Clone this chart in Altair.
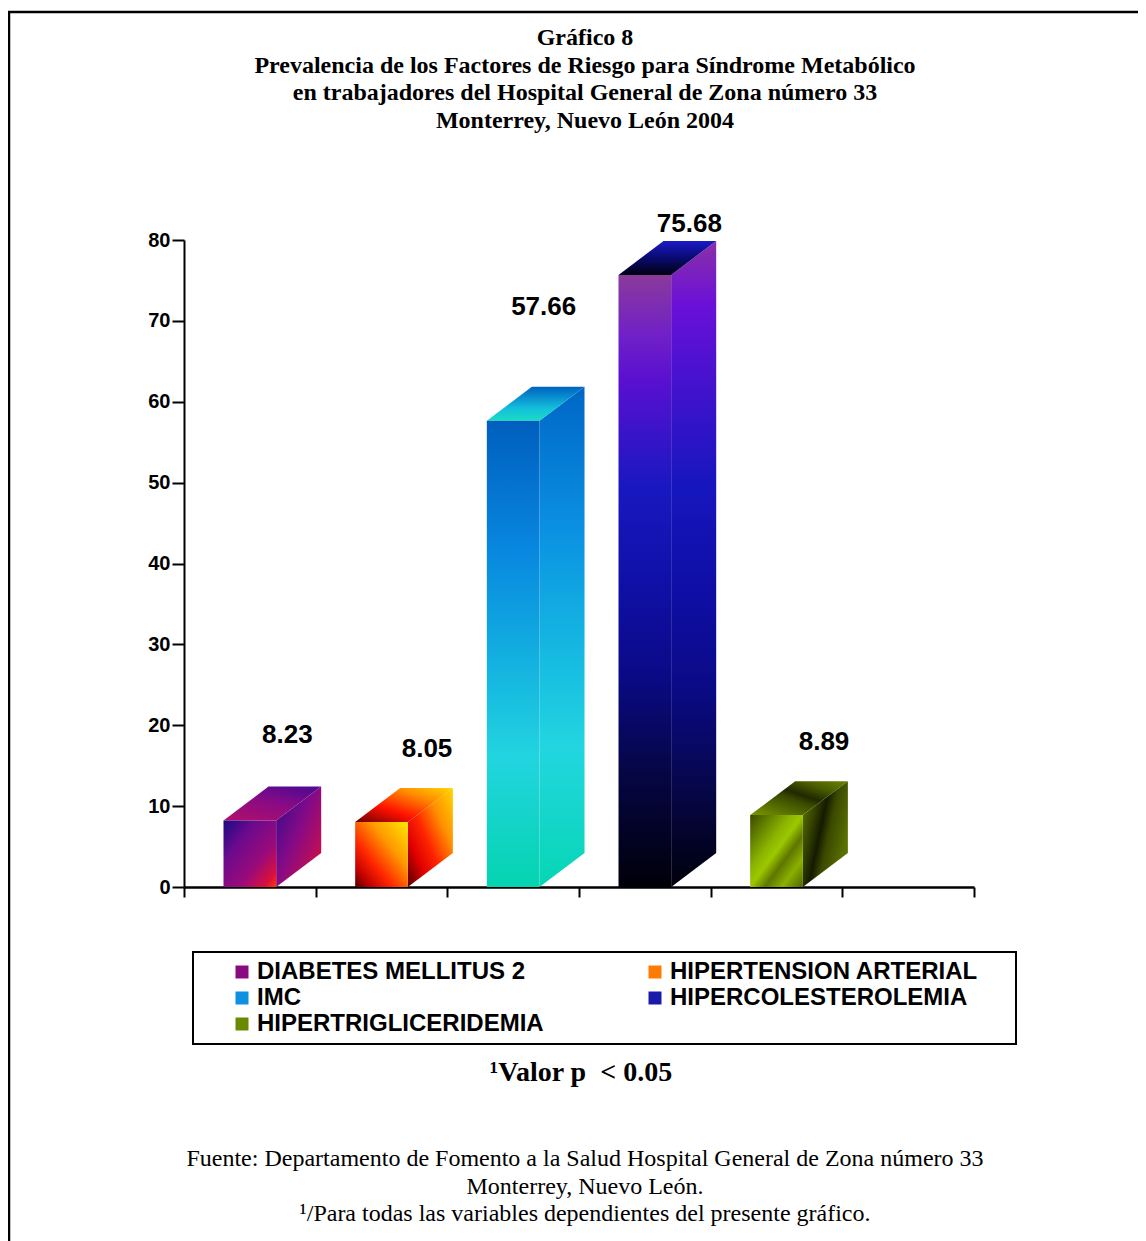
import altair as alt
import pandas as pd

# ---------------- data ----------------
categories = ["DIABETES MELLITUS 2", "HIPERTENSION ARTERIAL", "IMC",
              "HIPERCOLESTEROLEMIA", "HIPERTRIGLICERIDEMIA"]
values = [8.23, 8.05, 57.66, 75.68, 8.89]
y_ticks = [0, 10, 20, 30, 40, 50, 60, 70, 80]
slot_ticks = [0, 1, 2, 3, 4, 5, 6]

title_lines = ["Gráfico 8",
               "Prevalencia de los Factores de Riesgo para Síndrome Metabólico",
               "en trabajadores del Hospital General de Zona número 33",
               "Monterrey, Nuevo León 2004"]
note_text = "¹Valor p\u00a0 < 0.05"
source_lines = ["Fuente: Departamento de Fomento a la Salud Hospital General de Zona número 33",
                "Monterrey, Nuevo León.",
                "¹/Para todas las variables dependientes del presente gráfico."]

# ---------------- style ----------------
FRONT_L, FRONT_R = 0.3, 0.7      # front face inside each slot
DEPTH_X, DEPTH_Y = 0.342, 4.2    # 3D depth in data units
label_dx = [-2, 6, -9, 5, 8]
label_dy = [-51, -39, -80, -17, -39]
legend_colors = ["#8A0A80", "#FF7A00", "#1090E0", "#1A1AA8", "#6A8800"]

def grad(stops, x1=0, y1=0, x2=0, y2=1):
    return alt.Gradient(gradient="linear",
                        stops=[alt.GradientStop(offset=o, color=c) for o, c in stops],
                        x1=x1, y1=y1, x2=x2, y2=y2)

# (front, side, top) gradients for each bar
faces = [
    (grad([(0, "#1A0A80"), (0.3, "#6A0A8E"), (0.65, "#9A0A7A"), (0.88, "#D8103E"), (1, "#FF3A00")], 0, 0, 1, 1),
     grad([(0, "#2A0A8A"), (0.45, "#820A88"), (1, "#E0103A")], 0, 0, 1, 1),
     grad([(0, "#B0106A"), (0.6, "#8A0A84"), (1, "#5A0A90")], 0, 1, 0.6, 0)),
    (grad([(0, "#FFE800"), (0.35, "#FF9A00"), (0.65, "#FF2400"), (0.85, "#C00000"), (1, "#500000")], 1, 0, 0, 1),
     grad([(0, "#500000"), (0.25, "#E00000"), (0.45, "#FF2400"), (0.7, "#FF9000"), (1, "#FFD800")], 0, 1, 1, 0),
     grad([(0, "#6A0000"), (0.35, "#FF1000"), (0.7, "#FF8A00"), (1, "#FFD800")], 0, 1, 1, 0)),
    (grad([(0, "#005EBE"), (0.28, "#0888E0"), (0.5, "#12AEE0"), (0.72, "#22D4E0"), (1, "#04D4B0")]),
     grad([(0, "#0066C6"), (0.28, "#0A90E2"), (0.5, "#14B4E2"), (0.72, "#22D6E0"), (1, "#06D6B4")]),
     grad([(0, "#18DCC0"), (0.35, "#14C0DC"), (1, "#0062C2")], 0, 1, 0, 0)),
    (grad([(0, "#8A3A9A"), (0.1, "#7020C8"), (0.17, "#5A10D0"), (0.35, "#1818C0"), (0.5, "#1010A8"),
           (0.65, "#0A0A88"), (0.8, "#06064A"), (1, "#000008")]),
     grad([(0, "#8A30A8"), (0.1, "#6A10D8"), (0.2, "#4A12D0"), (0.38, "#1616BE"), (0.55, "#0E0EA4"),
           (0.7, "#0A0A84"), (0.85, "#060648"), (1, "#00000A")]),
     grad([(0, "#000010"), (0.5, "#0A0A70"), (1, "#1A1AC8")], 0, 1, 0, 0)),
    (grad([(0, "#3A4A00"), (0.38, "#8AB400"), (0.5, "#9CC800"), (0.64, "#5E7600"), (0.8, "#8AB000"), (1, "#506400")], 0, 0, 1, 1),
     grad([(0, "#6A8400"), (0.38, "#2A3400"), (0.5, "#141A00"), (0.66, "#3A4800"), (1, "#5A7000")], 0, 0, 1, 0.5),
     grad([(0, "#7A9800"), (0.45, "#3A4A00"), (0.56, "#202800"), (0.76, "#4A5C00"), (1, "#6A8400")], 0, 1, 1, 0)),
]

xs = alt.Scale(domain=[0, 6], nice=False, zero=False)
ys = alt.Scale(domain=[0, 80], nice=False, zero=False)

y_axis = alt.Axis(values=y_ticks, title=None, grid=False, labelFont="Liberation Sans",
                  labelFontWeight="bold", labelFontSize=20, labelColor="black",
                  tickColor="black", tickSize=12, tickWidth=2, domainColor="black",
                  domainWidth=2, labelPadding=2)
x_axis = alt.Axis(values=slot_ticks, title=None, grid=False, labels=False,
                  tickColor="black", tickSize=10, tickWidth=2, domainColor="black",
                  domainWidth=2.5)

def X(field):
    return alt.X(field, scale=xs, axis=x_axis)

def Y(field):
    return alt.Y(field, scale=ys, axis=y_axis)

layers = []

# frame around the whole figure
frame = alt.Chart(pd.DataFrame({"k": [0]})).mark_rect(
    fillOpacity=0, stroke="black", strokeWidth=2.5
).encode(x=alt.value(-175), x2=alt.value(1000), y=alt.value(-228), y2=alt.value(1020))
layers.append(frame)

for i, (cat, v) in enumerate(zip(categories, values)):
    x0, x1 = i + FRONT_L, i + FRONT_R
    front_g, side_g, top_g = faces[i]
    side_df = pd.DataFrame({"x": [x1, x1 + DEPTH_X], "lo": [0, DEPTH_Y], "hi": [v, v + DEPTH_Y]})
    top_df = pd.DataFrame({"y": [v, v + DEPTH_Y], "lo": [x0, x0 + DEPTH_X], "hi": [x1, x1 + DEPTH_X]})
    front_df = pd.DataFrame({"cat": [cat], "x0": [x0], "x1": [x1], "y0": [0.0], "y1": [v]})

    side = alt.Chart(side_df).mark_area(orient="vertical", color=side_g).encode(
        x=X("x:Q"), y=Y("hi:Q"), y2="lo:Q")
    top = alt.Chart(top_df).mark_area(orient="horizontal", color=top_g).encode(
        y=Y("y:Q"), x=X("lo:Q"), x2="hi:Q")
    front = alt.Chart(front_df).mark_rect(color=front_g).encode(
        x=X("x0:Q"), x2="x1:Q", y=Y("y0:Q"), y2="y1:Q")
    lab_df = pd.DataFrame({"x": [i + 0.8], "y": [v + DEPTH_Y], "t": [f"{v:.2f}"]})
    label = alt.Chart(lab_df).mark_text(
        font="Liberation Sans", fontWeight="bold", fontSize=26, color="black",
        baseline="middle", align="center", dx=label_dx[i], dy=label_dy[i]
    ).encode(x=X("x:Q"), y=Y("y:Q"), text="t:N")
    layers += [side, top, front, label]

# legend carrier (invisible points)
legend_layer = alt.Chart(pd.DataFrame({"cat": categories})).mark_square(size=0).encode(
    color=alt.Color("cat:N", scale=alt.Scale(domain=categories, range=legend_colors),
                    legend=alt.Legend(title="\u00a0", titleOrient="right", titlePadding=30,
                                      orient="none", legendX=9, legendY=712, columns=2,
                                      direction="horizontal",
                                      columnPadding=70, rowPadding=2, symbolType="square",
                                      symbolSize=169, symbolStrokeWidth=0, symbolOpacity=1,
                                      symbolOffset=29, labelFont="Liberation Sans",
                                      labelFontSize=24, labelFontWeight="bold",
                                      labelColor="black", labelOffset=3, labelLimit=500,
                                      padding=8, strokeColor="black")))
layers.append(legend_layer)

title = alt.Chart(pd.DataFrame({"k": [0]})).mark_text(
    font="Liberation Serif", fontWeight="bold", fontSize=24, color="black",
    align="center", baseline="middle", lineHeight=27.7
).encode(x=alt.value(401), y=alt.value(-202), text=alt.value(title_lines))
note = alt.Chart(pd.DataFrame({"t": [note_text]})).mark_text(
    font="Liberation Serif", fontWeight="bold", fontSize=28, color="black",
    align="center", baseline="middle"
).encode(x=alt.value(397), y=alt.value(833), text="t:N")
source = alt.Chart(pd.DataFrame({"k": [0]})).mark_text(
    font="Liberation Serif", fontSize=24, color="black", align="center",
    baseline="middle", lineHeight=27.5
).encode(x=alt.value(401), y=alt.value(919), text=alt.value(source_lines))
layers += [title, note, source]

chart = alt.layer(*layers).properties(
    width=790, height=647,
    padding={"left": 176, "top": 232, "right": 164, "bottom": 354},
    autosize=alt.AutoSizeParams(type="none"),
).configure_view(stroke=None).configure_legend(strokeWidth=2)

chart.save("out.html", embed_options={"renderer": "svg", "actions": False})
